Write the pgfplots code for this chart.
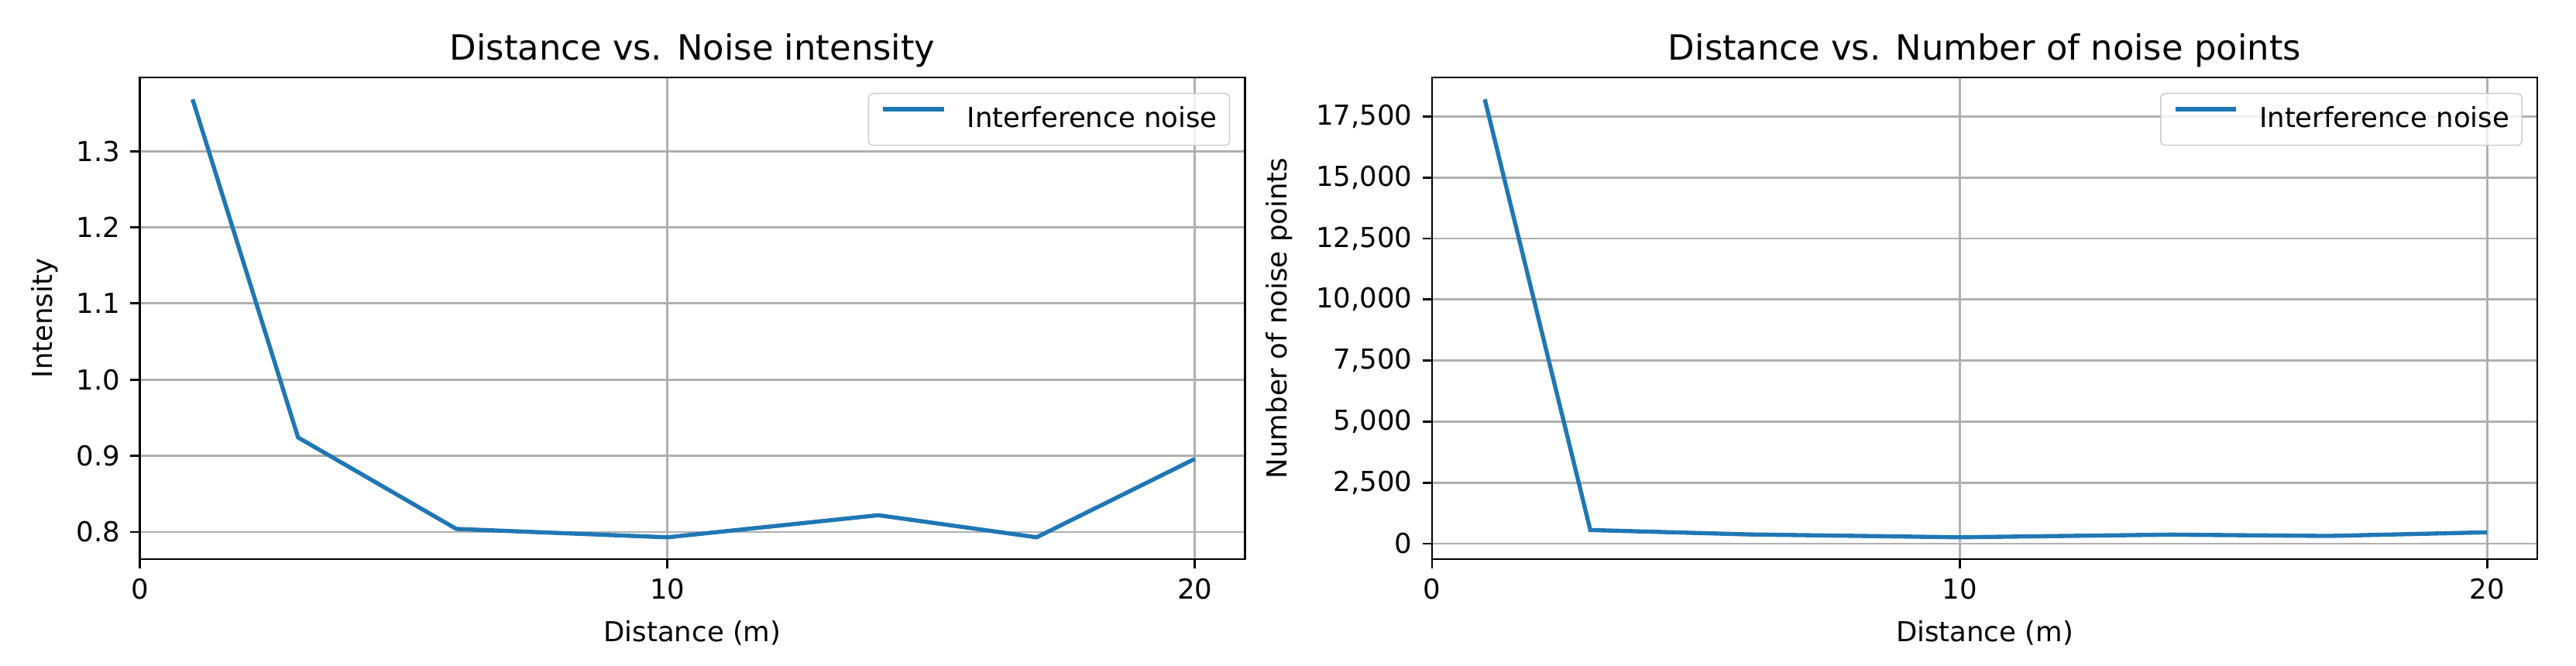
\documentclass[border=0pt]{standalone}
\usepackage{fontspec}
\setmainfont{DejaVu Sans}
\usepackage{pgfplots}
\pgfplotsset{compat=1.18}
\definecolor{mplblue}{HTML}{1F77B4}
\definecolor{gridgray}{HTML}{B0B0B0}
\definecolor{leggray}{HTML}{CCCCCC}
\begin{document}
\begin{tikzpicture}
\path[use as bounding box] (0,0) rectangle (889.7pt,230.05pt);
\pgfplotsset{
  myaxis/.style={
    scale only axis, width=381.7pt, height=166.4pt,
    anchor=south west,
    xmin=0, xmax=20.95,
    xtick={0,10,20},
    grid=major, major grid style={gridgray, line width=0.76pt},
    axis line style={line width=0.76pt},
    tick align=outside, tick pos=left, major tick length=3.3pt,
    every tick/.style={black, line width=0.76pt},
    tick label style={font=\fontsize{9.5}{11}\selectfont},
    /pgf/number format/assume math mode=true,
    title style={font=\fontsize{12}{14}\selectfont, at={(axis description cs:0.5,1)}, anchor=base},
    xlabel={Distance (m)},
    xlabel style={font=\fontsize{9.5}{11}\selectfont, at={(axis description cs:0.5,0)}, anchor=north, inner sep=0pt, yshift=-21pt},
    legend style={at={(axis description cs:1,1)}, anchor=north east, xshift=-5.1pt, yshift=-5.35pt,
      draw=leggray, rounded corners=1.5pt, fill=white, fill opacity=0.8, text opacity=1,
      font=\fontsize{9.5}{11}\selectfont, inner xsep=4.3pt, inner ysep=4.6pt,
      nodes={inner sep=0pt},
      /tikz/every odd column/.append style={column sep=7.3pt}},
    legend image code/.code={\draw[#1] (0pt,0.35em) -- (21pt,0.35em);},
    legend cell align=left,
  }
}
\begin{axis}[myaxis, at={(48.3pt,36.9pt)},
  title={Distance vs. Noise intensity},
  ylabel={Intensity},
  ylabel style={font=\fontsize{9.5}{11}\selectfont, at={(axis description cs:-0.0859,0.5)}, anchor=center},
  ymin=0.7643, ymax=1.3967,
  ytick={0.8,0.9,1.0,1.1,1.2,1.3},
  yticklabel style={/pgf/number format/.cd, fixed, fixed zerofill, precision=1},
]
\addplot[mplblue, line width=1.43pt] coordinates {
(1,1.368) (3,0.924) (6,0.804) (10,0.793) (14,0.822) (17,0.793) (20,0.896)
};
\addlegendentry{Interference noise}
\end{axis}
\begin{axis}[myaxis, at={(494.6pt,36.9pt)},
  title={Distance vs. Number of noise points},
  ylabel={Number of noise points},
  ylabel style={font=\fontsize{9.5}{11}\selectfont, at={(axis description cs:-0.138,0.5)}, anchor=center},
  ymin=-634, ymax=19097,
  ytick={0,2500,5000,7500,10000,12500,15000,17500},
  scaled y ticks=false,
  yticklabel style={/pgf/number format/.cd, fixed, precision=0, 1000 sep={,}},
]
\addplot[mplblue, line width=1.43pt] coordinates {
(1,18200) (3,560) (6,380) (10,263) (14,371) (17,317) (20,466)
};
\addlegendentry{Interference noise}
\end{axis}
\end{tikzpicture}
\end{document}
